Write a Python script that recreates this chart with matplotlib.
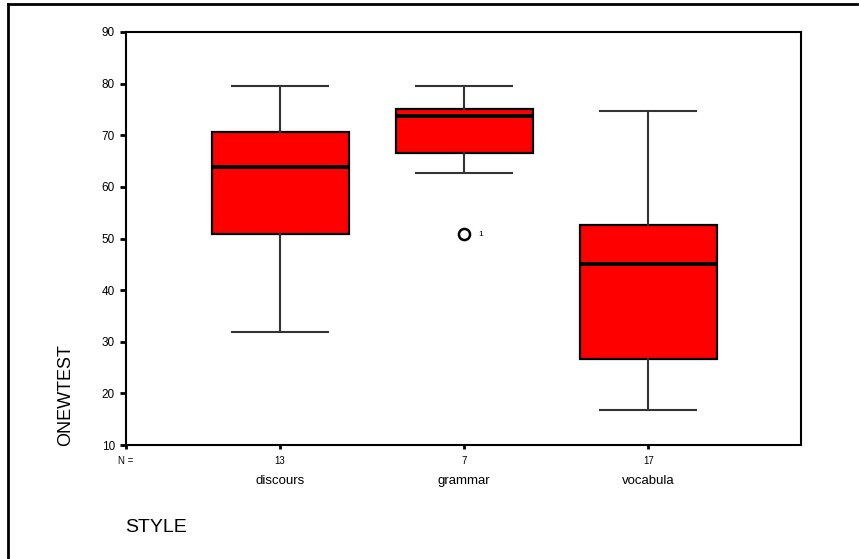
import matplotlib.pyplot as plt
from matplotlib.lines import Line2D
from matplotlib.transforms import blended_transform_factory

plt.rcParams['font.family'] = ['Liberation Sans', 'DejaVu Sans']

# box statistics per style group
styles = ["discours", "grammar", "vocabula"]
counts = ["13", "7", "17"]
whis_low = [31.8, 62.6, 16.7]
q1 = [50.8, 66.6, 26.7]
medians = [63.8, 73.8, 45.0]
q3 = [70.6, 75.0, 52.6]
whis_high = [79.5, 79.5, 74.7]
outliers = [[], [50.8], []]
outlier_ids = [[], ["1"], []]

stats = []
for i, name in enumerate(styles):
    stats.append({
        "label": name,
        "whislo": whis_low[i],
        "q1": q1[i],
        "med": medians[i],
        "q3": q3[i],
        "whishi": whis_high[i],
        "fliers": outliers[i],
    })

fig = plt.figure(figsize=(8.59, 5.59), dpi=100)
ax = fig.add_axes([126 / 859, 1 - 445 / 559, 675 / 859, 413 / 559])

pos = [1, 2, 3]
ax.bxp(stats, positions=pos, widths=0.745, patch_artist=True,
       boxprops=dict(facecolor="#ff0000", edgecolor="black", linewidth=1.6),
       medianprops=dict(color="black", linewidth=2.8),
       whiskerprops=dict(color="#333333", linewidth=1.5),
       capprops=dict(color="#333333", linewidth=1.5),
       capwidths=0.52,
       flierprops=dict(marker="o", markersize=8, markerfacecolor="white",
                       markeredgecolor="black", markeredgewidth=1.8),
       manage_ticks=False)

# case labels next to outliers
for i, ids in enumerate(outlier_ids):
    for v, t in zip(outliers[i], ids):
        ax.text(pos[i] + 0.075, v, t, fontsize=6, va="center", ha="left")

x0, x1 = 0.163, 3.83
ax.set_xlim(x0, x1)
ax.set_ylim(10, 90)
ax.set_yticks(range(10, 91, 10))
ax.tick_params(axis="y", labelsize=8.5, length=4, width=2, pad=4)
ax.set_xticks([x0] + pos)
ax.set_xticklabels(["N ="] + counts)
ax.tick_params(axis="x", labelsize=7, length=3, width=2, pad=5)
for s in ax.spines.values():
    s.set_linewidth(1.5)

trans = blended_transform_factory(ax.transData, fig.transFigure)
for p, name in zip(pos, styles):
    ax.text(p, 1 - 481 / 559, name, transform=trans, ha="center", va="center",
            fontsize=9.5)

fig.text(66 / 859, 1 - 446 / 559, "ONEWTEST", rotation=90, ha="center",
         va="bottom", fontsize=13)
fig.text(125 / 859, 1 - 527 / 559, "STYLE", ha="left", va="center", fontsize=14)

# outer frame lines on the left and top
fig.add_artist(Line2D([8 / 859, 8 / 859], [0, 1 - 4 / 559], color="black",
                      linewidth=2, transform=fig.transFigure))
fig.add_artist(Line2D([8 / 859, 857 / 859], [1 - 4 / 559, 1 - 4 / 559],
                      color="black", linewidth=2, transform=fig.transFigure))

fig.savefig("out.png", dpi=100)
